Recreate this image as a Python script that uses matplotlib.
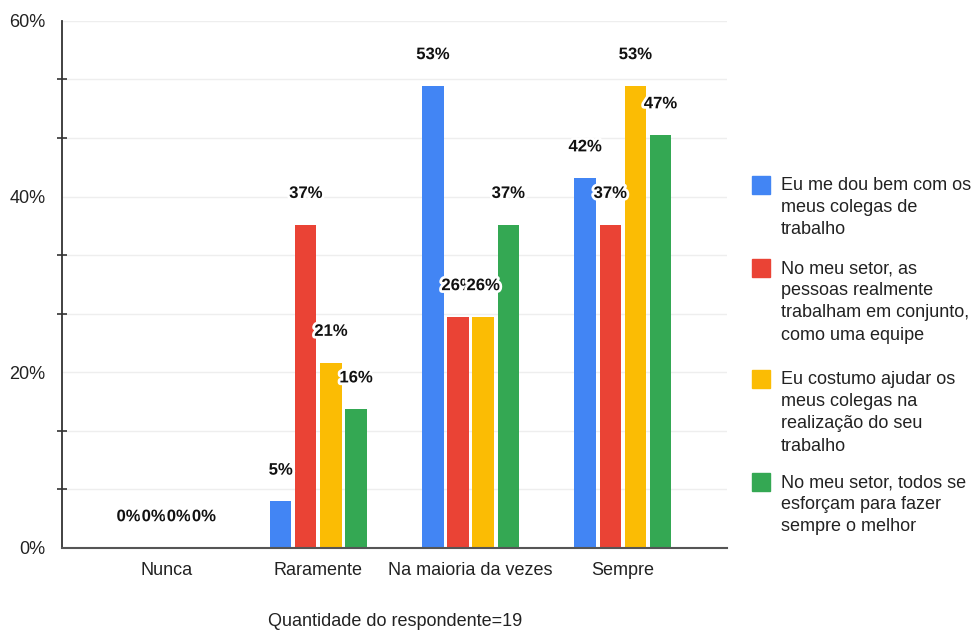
import numpy as np
import matplotlib
matplotlib.use('Agg')
import matplotlib.pyplot as plt
import matplotlib.patheffects as pe
from matplotlib.patches import Rectangle

plt.rcParams['font.family'] = ['Liberation Sans', 'DejaVu Sans']

categories = ['Nunca', 'Raramente', 'Na maioria da vezes', 'Sempre']
series_names = ['Eu me dou bem com os\nmeus colegas de\ntrabalho',
                'No meu setor, as\npessoas realmente\ntrabalham em conjunto,\ncomo uma equipe',
                'Eu costumo ajudar os\nmeus colegas na\nrealização do seu\ntrabalho',
                'No meu setor, todos se\nesforçam para fazer\nsempre o melhor']
# percentages of 19 respondents
blue_vals = [0, 5.3, 52.6, 42.1]
red_vals = [0, 36.8, 26.3, 36.8]
yellow_vals = [0, 21.1, 26.3, 52.6]
green_vals = [0, 15.8, 36.8, 47.0]
colors = ['#4285F4', '#EA4335', '#FBBC04', '#34A853']
y_ticks = [0, 20, 40, 60]
y_minor = [20/3 * i for i in range(10)]
xlabel = 'Quantidade do respondente=19'


def main():
    fig = plt.figure(figsize=(9.77, 6.32), dpi=100)
    ax = fig.add_axes([0.0635, 0.133, 0.6805, 0.834])

    x = np.arange(len(categories))
    width = 0.14
    step = 0.165
    all_vals = [blue_vals, red_vals, yellow_vals, green_vals]

    for i, vals in enumerate(all_vals):
        pos = x + (i - 1.5) * step
        ax.bar(pos, vals, width, color=colors[i], zorder=2)
    # labels drawn series by series, later ones cover earlier ones
    for i, vals in enumerate(all_vals):
        pos = x + (i - 1.5) * step
        for xp, v in zip(pos, vals):
            ax.annotate('%d%%' % round(v), (xp, v), xytext=(0, 22.5),
                        textcoords='offset points', ha='center', va='center',
                        fontsize=12, fontweight='bold', color='#111111', zorder=4,
                        path_effects=[pe.withStroke(linewidth=4, foreground='white')])

    ax.set_xlim(-0.684, 3.684)
    ax.set_ylim(0, 60)
    ax.set_yticks(y_ticks)
    ax.set_yticklabels(['%d%%' % t for t in y_ticks])
    ax.set_yticks([t for t in y_minor if round(t, 3) % 20 != 0], minor=True)
    ax.set_xticks(x)
    ax.set_xticklabels(categories)
    ax.tick_params(axis='y', which='major', length=0, pad=12, labelsize=13, labelcolor='#222222')
    ax.tick_params(axis='y', which='minor', length=7, direction='inout', width=1.2, color='#333333')
    ax.tick_params(axis='x', length=0, pad=10, labelsize=13, labelcolor='#222222')
    for t in y_minor:
        ax.axhline(t, color='#eeeeee', lw=1, zorder=0)

    for s in ['top', 'right']:
        ax.spines[s].set_visible(False)
    ax.spines['left'].set_color('#333333')
    ax.spines['left'].set_linewidth(1.3)
    ax.spines['bottom'].set_color('#555555')
    ax.spines['bottom'].set_linewidth(1.5)
    ax.spines['bottom'].set_zorder(3)

    fig.text(0.404, 1 - 622 / 632, xlabel, ha='center', va='center', fontsize=13, color='#222222')

    # legend on the right
    tops = [176, 259, 370, 473]
    for i, name in enumerate(series_names):
        y0 = 1 - tops[i] / 632
        fig.patches.append(Rectangle((752 / 977, y0 - 18 / 632), 18 / 977, 18 / 632,
                                     transform=fig.transFigure, color=colors[i]))
        fig.text(781 / 977, y0 - 1 / 632, name, ha='left', va='top', fontsize=13,
                 color='#222222', linespacing=1.4)

    plt.savefig('out.png', dpi=100)


if __name__ == "__main__":
    main()
